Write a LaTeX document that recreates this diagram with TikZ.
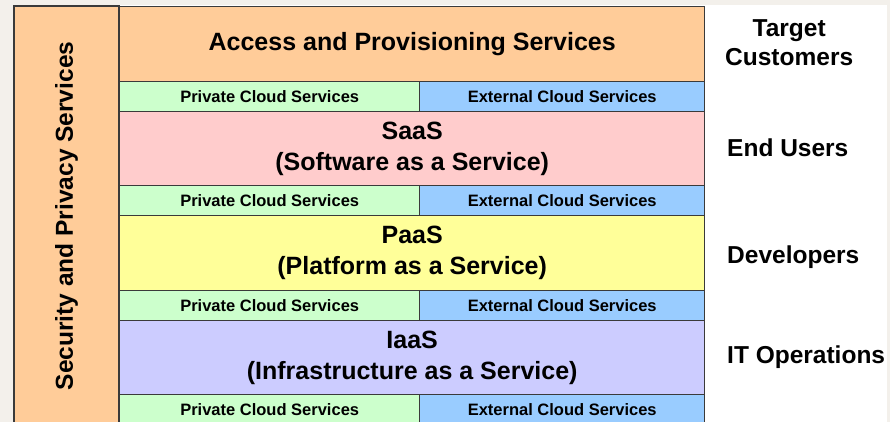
\documentclass[tikz,border=0pt]{standalone}
\usepackage{fontspec}
\setmainfont{Liberation Sans}
\definecolor{paper}{HTML}{F3F0EB}
\definecolor{edge}{HTML}{3A3A3A}
\definecolor{accfill}{HTML}{FFCC99}
\definecolor{privfill}{HTML}{CCFFCC}
\definecolor{extfill}{HTML}{99CCFF}
\definecolor{saasfill}{HTML}{FFCCCC}
\definecolor{paasfill}{HTML}{FFFF99}
\definecolor{iaasfill}{HTML}{CCCCFF}
\tikzset{
    layerbox/.style={draw=edge,line width=1.4pt,anchor=north west,inner sep=0pt,
        minimum width=585pt,minimum height=75pt,align=center,
        font=\fontsize{25}{31}\selectfont\bfseries},
    cloudbox/.style={draw=edge,line width=1.4pt,anchor=north west,inner sep=0pt,
        minimum height=30pt,font=\fontsize{16.5}{19}\selectfont\bfseries},
    userlabel/.style={anchor=west,align=center,inner sep=0pt,
        font=\fontsize{24.5}{29}\selectfont\bfseries}
}
\begin{document}
\begin{tikzpicture}[x=1pt,y=-1pt]
    \useasboundingbox (0,0) rectangle (890,422);
    \fill[paper] (0,0) rectangle (890,422);
    \fill[white] (14,5) rectangle (887,422);
    % security column
    \node[draw=edge,line width=1.4pt,fill=accfill,rotate=90,inner sep=0pt,
        minimum width=420pt,minimum height=105pt,
        font=\fontsize{24.5}{29}\selectfont\bfseries] (sec) at (66.5,216) {Security and Privacy Services};
    % layers
    \node[layerbox,fill=accfill] (acc) at (119,6) {Access and Provisioning Services};
    \node[layerbox,fill=saasfill] (saas) at (119,111) {SaaS\\(Software as a Service)};
    \node[layerbox,fill=paasfill] (paas) at (119,215) {PaaS\\(Platform as a Service)};
    \node[layerbox,fill=iaasfill] (iaas) at (119,320) {IaaS\\(Infrastructure as a Service)};
    % cloud strips
    \foreach \y/\n in {81/a,185/b,290/c,394/d} {
        \node[cloudbox,fill=privfill,minimum width=300pt] (priv\n) at (119,\y) {Private Cloud Services};
        \node[cloudbox,fill=extfill,minimum width=285pt] (ext\n) at (419,\y) {External Cloud Services};
    }
    % target customers
    \node[userlabel] (cust) at (725,43) {Target\\Customers};
    \node[userlabel] (end) at (727,148) {End Users};
    \node[userlabel] (dev) at (727,257) {Developers};
    \node[userlabel] (itop) at (727,357) {IT Operations};
\end{tikzpicture}
\end{document}
